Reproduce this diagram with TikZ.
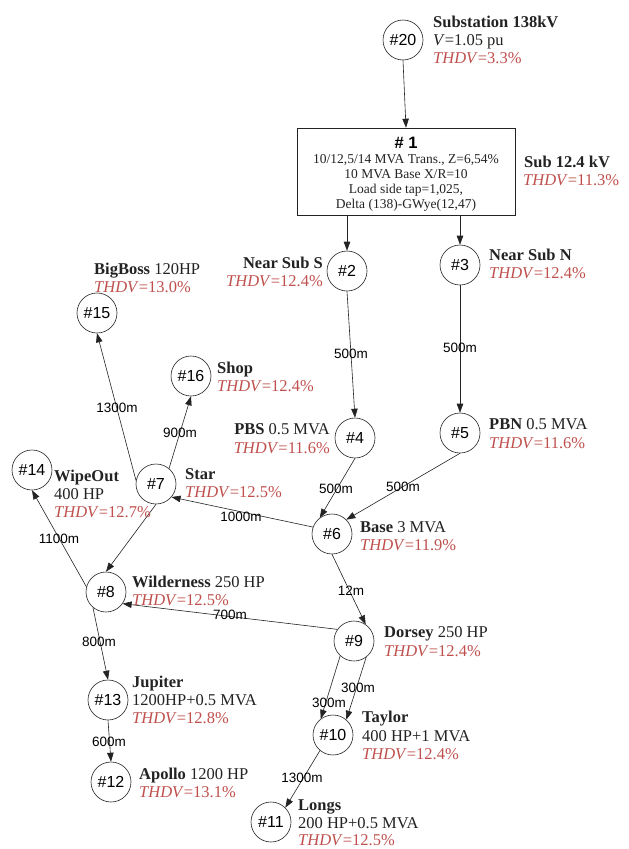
\documentclass[tikz,border=0pt]{standalone}
\usepackage{fontspec}
\setmainfont{Liberation Serif}
\setsansfont{Liberation Sans}
\usetikzlibrary{arrows.meta}
\definecolor{thd}{RGB}{192,80,77}
\definecolor{ink}{RGB}{35,35,35}
\begin{document}
\begin{tikzpicture}[x=1pt,y=-1pt,
  bus/.style={circle,draw=ink,line width=0.6pt,minimum size=40pt,inner sep=0pt,font=\sffamily\fontsize{16}{18}\selectfont},
  conn/.style={draw=ink,line width=0.6pt,-{Triangle[length=9pt,width=6.5pt]}},
  len/.style={font=\sffamily\fontsize{13.5}{15}\selectfont,inner sep=0pt,anchor=center},
  lab/.style={font=\fontsize{16.5}{18}\selectfont,inner sep=0pt,anchor=base west,text=ink},
  labr/.style={lab,anchor=base east},
  thdv/.style={lab,text=thd},
  thdvr/.style={labr,text=thd},
  boxt/.style={font=\fontsize{13.5}{15}\selectfont,inner sep=0pt,anchor=base,text=ink}
]
\fill[white] (0,0) rectangle (629,849);
\useasboundingbox (0,0) rectangle (629,849);

% buses
\node[bus] (n20) at (403,40) {\#20};
\node[draw=ink,line width=0.6pt,minimum width=218pt,minimum height=87pt,inner sep=0pt] (n1) at (406,171.5) {};
\node[bus] (n2) at (347,271) {\#2};
\node[bus] (n3) at (460,265) {\#3};
\node[bus] (n15) at (97,313) {\#15};
\node[bus] (n16) at (191,376) {\#16};
\node[bus] (n4) at (355,438) {\#4};
\node[bus] (n5) at (460,433) {\#5};
\node[bus] (n14) at (32,470) {\#14};
\node[bus] (n7) at (156,484) {\#7};
\node[bus] (n6) at (332,534) {\#6};
\node[bus] (n8) at (106,592) {\#8};
\node[bus] (n9) at (354,641) {\#9};
\node[bus] (n13) at (108,700) {\#13};
\node[bus] (n10) at (333,735) {\#10};
\node[bus] (n12) at (111,782) {\#12};
\node[bus] (n11) at (271,822) {\#11};

% transformer box text
\node[font=\sffamily\bfseries\fontsize{16.5}{18}\selectfont,inner sep=0pt,anchor=base] (t1) at (406,148) {\# 1};
\node[boxt] (t2) at (406,163.5) {10/12,5/14 MVA Trans., Z=6,54\%};
\node[boxt] (t3) at (406,178.5) {10 MVA Base X/R=10};
\node[boxt] (t4) at (406,193.5) {Load side tap=1,025,};
\node[boxt] (t5) at (406,208.5) {Delta (138)-GWye(12,47)};

% connectors
\draw[conn] (n20.south) -- (n1.north);
\draw[conn] (n2 |- n1.south) -- (n2.north);
\draw[conn] (n3 |- n1.south) -- (n3.north);
\draw[conn] (n2.south) -- (n4.north);
\draw[conn] (n3.south) -- (n5.north);
\draw[conn] (n4.south) -- (n6.127);
\draw[conn] (n5.south) -- (n6.45);
\draw[conn] (n6.160) -- (n7.320);
\draw[conn] (n7.170) -- (n15.south);
\draw[conn] (n7.50) -- (n16.south);
\draw[conn] (n7.south) -- (n8.north);
\draw[conn] (n8.165) -- (n14.south);
\draw[conn] (n8.230) -- (n13.north);
\draw[conn] (n6.south) -- (n9.55);
\draw[conn] (n9.145) -- (n8.325);
\draw[conn] (n9.227) -- (n10.127);
\draw[conn] (n9.307) -- (n10.49);
\draw[conn] (n13.south) -- (n12.north);
\draw[conn] (n10.230) -- (n11.45);

% line lengths
\node[len] (e1) at (351,354) {500m};
\node[len] (e2) at (460,348) {500m};
\node[len] (e3) at (117,408) {1300m};
\node[len] (e4) at (180,433) {900m};
\node[len] (e5) at (336,489) {500m};
\node[len] (e6) at (403,487) {500m};
\node[len] (e7) at (241,517) {1000m};
\node[len] (e8) at (59,539) {1100m};
\node[len] (e9) at (351,591) {12m};
\node[len] (e10) at (230,615) {700m};
\node[len] (e11) at (99,642) {800m};
\node[len] (e12) at (329,703) {300m};
\node[len] (e13) at (358,688) {300m};
\node[len] (e14) at (109,742) {600m};
\node[len] (e15) at (302,778) {1300m};

% bus labels
\node[lab] (l20a) at (433,27.5) {\textbf{Substation 138kV}};
\node[lab] (l20b) at (433,45.5) {\textit{V}=1.05 pu};
\node[thdv] (l20c) at (433,63.5) {\textit{THDV}=3.3\%};

\node[lab] (l1a) at (524,167.5) {\textbf{Sub 12.4 kV}};
\node[thdv] (l1b) at (523,185.5) {\textit{THDV}=11.3\%};

\node[labr] (l2a) at (323,268.5) {\textbf{Near Sub S}};
\node[thdvr] (l2b) at (323,286.5) {\textit{THDV}=12.4\%};

\node[lab] (l3a) at (489,260.5) {\textbf{Near Sub N}};
\node[thdv] (l3b) at (489,278.5) {\textit{THDV}=12.4\%};

\node[lab] (l15a) at (94,274.5) {\textbf{BigBoss} 120HP};
\node[thdv] (l15b) at (94,292.5) {\textit{THDV}=13.0\%};

\node[lab] (l16a) at (217,373.5) {\textbf{Shop}};
\node[thdv] (l16b) at (217,391.5) {\textit{THDV}=12.4\%};

\node[labr] (l4a) at (330,434.5) {\textbf{PBS} 0.5 MVA};
\node[thdvr] (l4b) at (330,453.5) {\textit{THDV}=11.6\%};

\node[lab] (l5a) at (489,429.5) {\textbf{PBN} 0.5 MVA};
\node[thdv] (l5b) at (489,448.5) {\textit{THDV}=11.6\%};

\node[lab] (l14a) at (54,481.5) {\textbf{WipeOut}};
\node[lab] (l14b) at (54,499.5) {400 HP};
\node[thdv] (l14c) at (54,517.5) {\textit{THDV}=12.7\%};

\node[lab] (l7a) at (185,479.5) {\textbf{Star}};
\node[thdv] (l7b) at (185,497.5) {\textit{THDV}=12.5\%};

\node[lab] (l6a) at (360,532.5) {\textbf{Base} 3 MVA};
\node[thdv] (l6b) at (360,550.5) {\textit{THDV}=11.9\%};

\node[lab] (l8a) at (132,587.5) {\textbf{Wilderness} 250 HP};
\node[thdv] (l8b) at (132,605.5) {\textit{THDV}=12.5\%};

\node[lab] (l9a) at (384,637.5) {\textbf{Dorsey} 250 HP};
\node[thdv] (l9b) at (384,656.5) {\textit{THDV}=12.4\%};

\node[lab] (l13a) at (132,687.5) {\textbf{Jupiter}};
\node[lab] (l13b) at (132,705.5) {1200HP+0.5 MVA};
\node[thdv] (l13c) at (132,723.5) {\textit{THDV}=12.8\%};

\node[lab] (l12a) at (139,779.5) {\textbf{Apollo} 1200 HP};
\node[thdv] (l12b) at (139,797.5) {\textit{THDV}=13.1\%};

\node[lab] (l10a) at (362,722.5) {\textbf{Taylor}};
\node[lab] (l10b) at (362,741.5) {400 HP+1 MVA};
\node[thdv] (l10c) at (362,759.5) {\textit{THDV}=12.4\%};

\node[lab] (l11a) at (298,810) {\textbf{Longs}};
\node[lab] (l11b) at (298,828) {200 HP+0.5 MVA};
\node[thdv] (l11c) at (298,845.5) {\textit{THDV}=12.5\%};
\end{tikzpicture}
\end{document}
